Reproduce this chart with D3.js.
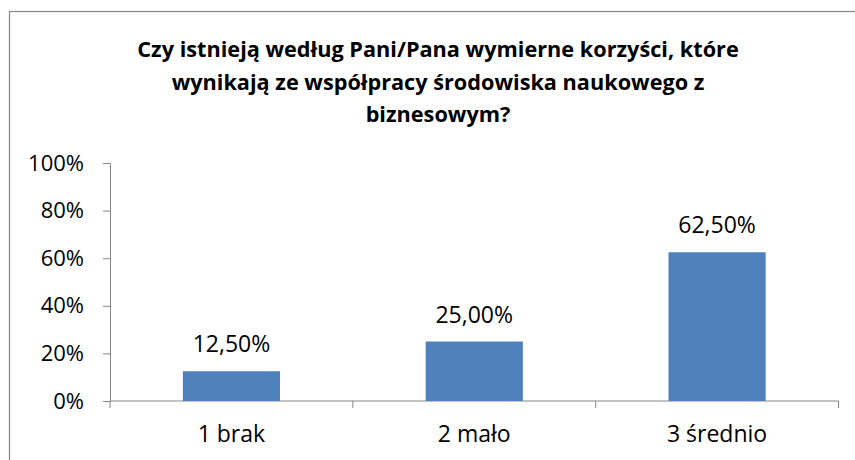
<!DOCTYPE html>
<html>
<head>
<meta charset="utf-8">
<script src="https://cdn.jsdelivr.net/npm/d3@7"></script>
<style>
  body { margin: 0; background: #fff; }
  svg { display: block; font-family: "Open Sans", "Noto Sans", sans-serif; }
</style>
</head>
<body>
<svg width="855" height="460"></svg>
<script>
var titleLines = [
  "Czy istnieją według Pani/Pana wymierne korzyści, które",
  "wynikają ze współpracy środowiska naukowego z",
  "biznesowym?"
];
var categories = ["1 brak", "2 mało", "3 średnio"];
var values = [0.125, 0.25, 0.625];
var yTicks = [0, 0.2, 0.4, 0.6, 0.8, 1];

var svg = d3.select("svg"),
  width = +svg.attr("width"),
  height = +svg.attr("height");

var axisColor = "#868686";
var barColor = "#4F81BD";

// chart frame, runs off the right and bottom edge like in the picture
svg.append("rect")
  .attr("x", 9.5)
  .attr("y", 11.5)
  .attr("width", 857)
  .attr("height", 470)
  .attr("fill", "none")
  .attr("stroke", axisColor)
  .attr("stroke-width", 1.2);

var plot = { left: 110, right: 838.5, top: 163, bottom: 401 };

svg.append("text")
  .attr("text-anchor", "middle")
  .attr("font-weight", "bold")
  .attr("font-size", 21.7)
  .attr("fill", "#000")
  .selectAll("tspan")
  .data(titleLines)
  .enter()
  .append("tspan")
  .attr("x", 438)
  .attr("y", function(d, i) { return 57 + i * 32.5; })
  .text(function(d) { return d; });

var x = d3.scaleBand()
  .domain(categories)
  .range([plot.left, plot.right])
  .paddingInner(0.6)
  .paddingOuter(0.3);

var y = d3.scaleLinear()
  .domain([0, 1])
  .range([plot.bottom, plot.top]);

// y axis
var yAxis = svg.append("g")
  .attr("transform", "translate(" + plot.left + ",0)")
  .call(d3.axisLeft(y)
    .tickValues(yTicks)
    .tickSize(7)
    .tickPadding(19)
    .tickFormat(d3.format(".0%")));

// x axis: ticks sit between the categories
var step = x.step();
var xAxis = svg.append("g")
  .attr("transform", "translate(0," + plot.bottom + ")");
xAxis.append("line")
  .attr("x1", plot.left)
  .attr("x2", plot.right)
  .attr("stroke", axisColor);
xAxis.selectAll("line.tick")
  .data(d3.range(categories.length + 1))
  .enter()
  .append("line")
  .attr("class", "tick")
  .attr("x1", function(i) { return plot.left + i * step; })
  .attr("x2", function(i) { return plot.left + i * step; })
  .attr("y1", 0)
  .attr("y2", 7)
  .attr("stroke", axisColor);
xAxis.selectAll("text")
  .data(categories)
  .enter()
  .append("text")
  .attr("x", function(d) { return x(d) + x.bandwidth() / 2; })
  .attr("y", 41)
  .attr("text-anchor", "middle")
  .attr("font-size", 23)
  .attr("fill", "#000")
  .text(function(d) { return d; });

yAxis.attr("font-family", null).attr("font-size", 22);
yAxis.select(".domain").attr("stroke", axisColor);
yAxis.selectAll(".tick line").attr("stroke", axisColor);
yAxis.selectAll(".tick text").attr("fill", "#000");

// bars
svg.append("g")
  .selectAll("rect")
  .data(values)
  .enter()
  .append("rect")
  .attr("x", function(d, i) { return x(categories[i]); })
  .attr("y", function(d) { return y(d); })
  .attr("width", x.bandwidth())
  .attr("height", function(d) { return plot.bottom - y(d); })
  .attr("fill", barColor);

// value labels
var pct = function(v) { return (v * 100).toFixed(2).replace(".", ",") + "%"; };
svg.append("g")
  .selectAll("text")
  .data(values)
  .enter()
  .append("text")
  .attr("x", function(d, i) { return x(categories[i]) + x.bandwidth() / 2; })
  .attr("y", function(d) { return y(d) - 19; })
  .attr("text-anchor", "middle")
  .attr("font-size", 23)
  .attr("fill", "#000")
  .text(function(d) { return pct(d); });
</script>
</body>
</html>
